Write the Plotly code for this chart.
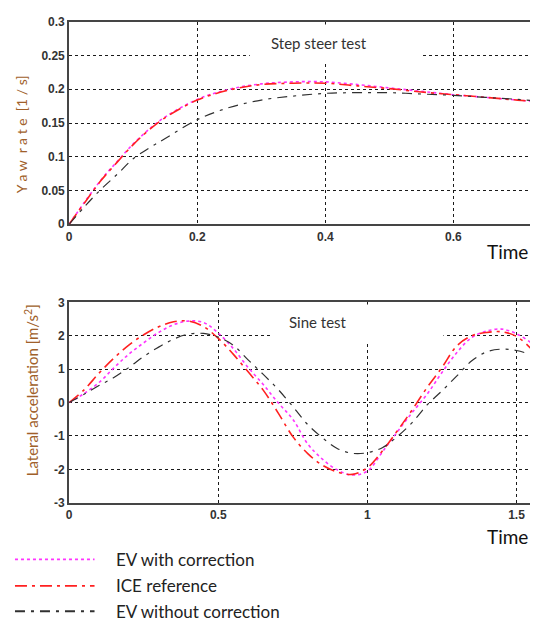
import plotly.graph_objects as go

# ---------------- data ----------------
# Step steer test (yaw rate, 1/s)
t_step = [0, 0.025, 0.05, 0.075, 0.1, 0.125, 0.15, 0.2, 0.25, 0.3, 0.35, 0.4,
          0.45, 0.5, 0.55, 0.6, 0.65, 0.7, 0.75]
step_ev_with = [0, 0.034, 0.066, 0.093, 0.119, 0.141, 0.159, 0.185, 0.200, 0.208,
                0.211, 0.211, 0.207, 0.202, 0.197, 0.192, 0.188, 0.184, 0.180]
step_ice = [0, 0.033, 0.065, 0.092, 0.118, 0.140, 0.158, 0.184, 0.199, 0.207,
            0.209, 0.209, 0.205, 0.201, 0.196, 0.192, 0.188, 0.184, 0.180]
step_ev_without = [0, 0.027, 0.052, 0.074, 0.097, 0.113, 0.127, 0.155, 0.173, 0.184,
                   0.190, 0.194, 0.195, 0.195, 0.193, 0.191, 0.188, 0.185, 0.181]

# Sine test (lateral acceleration, m/s^2)
t_sine = [0, 0.05, 0.1, 0.15, 0.2, 0.25, 0.3, 0.35, 0.4, 0.45, 0.5, 0.55, 0.6,
          0.65, 0.7, 0.75, 0.8, 0.85, 0.9, 0.95, 1.0, 1.05, 1.1, 1.15, 1.2,
          1.25, 1.3, 1.35, 1.4, 1.45, 1.5, 1.55, 1.57]
sine_ev_with = [0, 0.27, 0.6, 1.04, 1.45, 1.79, 2.1, 2.33, 2.44, 2.4, 2.08, 1.62,
                1.05, 0.55, 0.0, -0.5, -1.24, -1.7, -2.02, -2.17, -2.05, -1.48,
                -0.88, -0.3, 0.25, 0.9, 1.5, 1.95, 2.14, 2.2, 2.06, 1.78, 1.6]
sine_ice = [0, 0.38, 0.88, 1.33, 1.72, 2.03, 2.27, 2.42, 2.44, 2.28, 1.92, 1.45,
            0.92, 0.38, -0.3, -1.02, -1.53, -1.88, -2.08, -2.15, -1.95, -1.45,
            -0.85, -0.22, 0.45, 1.05, 1.7, 2.0, 2.1, 2.12, 1.98, 1.6, 1.36]
sine_ev_without = [0, 0.25, 0.51, 0.75, 1.05, 1.38, 1.66, 1.9, 2.05, 2.07, 1.96,
                   1.72, 1.28, 0.85, 0.4, -0.12, -0.66, -1.06, -1.38, -1.52, -1.5,
                   -1.35, -1.02, -0.6, -0.07, 0.35, 0.8, 1.25, 1.52, 1.6, 1.56,
                   1.42, 1.32]

step_xticks = [0, 0.2, 0.4, 0.6]
step_yticks = [0, 0.05, 0.1, 0.15, 0.2, 0.25, 0.3]
step_ytext = ["0", "0.05", "0.1", "0.15", "0.2", "0.25", "0.3"]
sine_xticks = [0, 0.5, 1, 1.5]
sine_xtext = ["0", "0.5", "1", "1.5"]
sine_yticks = [-3, -2, -1, 0, 1, 2, 3]

series_names = ["EV with correction", "ICE reference", "EV without correction"]

# ---------------- styling ----------------
OFF = 8            # page body margin
W, H = 530, 622
VIS_RIGHT = 530    # right edge that is visible in the window
styles = [
    dict(color="#ff33ff", width=1.6, dash="3px,3px"),
    dict(color="#ff2020", width=1.6, dash="12px,5px,3px,5px"),
    dict(color="#303030", width=1.2, dash="10px,6px,3px,6px"),
]

def px_x(p):
    return (p - OFF) / W

def px_y(p):
    return 1 - (p - OFF) / H

fig = go.Figure()

for vals, st, nm in zip([step_ev_with, step_ice, step_ev_without], styles, series_names):
    fig.add_trace(go.Scatter(x=t_step, y=vals, mode="lines", name=nm, line=dict(shape="spline", **st),
                             xaxis="x", yaxis="y", showlegend=False))
for vals, st, nm in zip([sine_ev_with, sine_ice, sine_ev_without], styles, series_names):
    fig.add_trace(go.Scatter(x=t_sine, y=vals, mode="lines", name=nm, line=dict(shape="spline", **st),
                             xaxis="x2", yaxis="y2", showlegend=False))

tickfont = dict(family="Liberation Sans, Arial", size=12, color="#333333", weight="bold")
axis_common = dict(showgrid=True, gridcolor="#1a1a1a", gridwidth=1, griddash="3px,3px",
                   zeroline=False, showline=True, linecolor="#454545", linewidth=2,
                   ticks="", tickfont=tickfont)

x0 = px_x(66.5)
fig.update_layout(
    width=W, height=H,
    margin=dict(l=0, r=0, t=0, b=0),
    paper_bgcolor="white", plot_bgcolor="white",
    xaxis=dict(domain=[x0, 1.0], range=[0, 0.732], tickvals=step_xticks,
               ticktext=[str(v) for v in step_xticks], anchor="y", mirror=True, **axis_common),
    yaxis=dict(domain=[px_y(222), px_y(15)], range=[0, 0.3], tickvals=step_yticks,
               ticktext=step_ytext, anchor="x", **axis_common),
    xaxis2=dict(domain=[x0, 1.0], range=[0, 1.572], tickvals=sine_xticks,
                ticktext=sine_xtext, anchor="y2", mirror=True, **axis_common),
    yaxis2=dict(domain=[px_y(507), px_y(302)], range=[-3, 3], tickvals=sine_yticks,
                ticktext=[str(v) for v in sine_yticks], anchor="x2", **axis_common),
    showlegend=False,
)

# white boxes behind the panel titles (cover grid lines)
fig.add_shape(type="rect", xref="x", yref="y", x0=0.282, x1=0.551, y0=0.239, y1=0.296,
              fillcolor="white", line=dict(width=0), layer="between")
fig.add_shape(type="rect", xref="x2", yref="y2", x0=0.678, x1=1.255, y0=1.83, y1=2.94,
              fillcolor="white", line=dict(width=0), layer="between")

title_font = dict(family="Lato, Open Sans", size=15, color="#333333")
fig.add_annotation(text="Step steer test", xref="paper", yref="paper", x=px_x(318), y=px_y(37),
                   showarrow=False, font=title_font, xanchor="center", yanchor="middle")
fig.add_annotation(text="Sine test", xref="paper", yref="paper", x=px_x(317), y=px_y(322),
                   showarrow=False, font=title_font, xanchor="center", yanchor="middle")

ytitle_font = dict(family="Lato, Open Sans", size=14, color="#a0602a")
fig.add_annotation(text="Y a w  r a t e  [1 / s]", xref="paper", yref="paper", x=px_x(18), y=px_y(130),
                   showarrow=False, textangle=-90, font=ytitle_font, xanchor="center", yanchor="middle")
fig.add_annotation(text="Lateral acceleration [m/s<sup>2</sup>]", xref="paper", yref="paper",
                   x=px_x(28), y=px_y(392), showarrow=False, textangle=-90,
                   font=dict(family="Lato, Open Sans", size=15, color="#a0602a"),
                   xanchor="center", yanchor="middle")

time_font = dict(family="Lato, Open Sans", size=19, color="#111111")
fig.add_annotation(text="Time", xref="paper", yref="paper", x=px_x(VIS_RIGHT), y=px_y(250),
                   showarrow=False, font=time_font, xanchor="right", yanchor="middle")
fig.add_annotation(text="Time", xref="paper", yref="paper", x=px_x(VIS_RIGHT), y=px_y(542),
                   showarrow=False, font=time_font, xanchor="right", yanchor="middle")

# manual legend
leg_rows = [565, 592, 618]
leg_font = dict(family="Lato, Open Sans", size=17, color="#222222")
for row, st, nm in zip(leg_rows, styles, series_names):
    fig.add_shape(type="line", xref="paper", yref="paper", x0=px_x(12), x1=px_x(92),
                  y0=px_y(row), y1=px_y(row), line=dict(color=st["color"], width=1.8, dash=st["dash"]))
    fig.add_annotation(text=nm, xref="paper", yref="paper", x=px_x(112), y=px_y(row),
                       showarrow=False, font=leg_font, xanchor="left", yanchor="middle")

fig.write_html("out.html")
